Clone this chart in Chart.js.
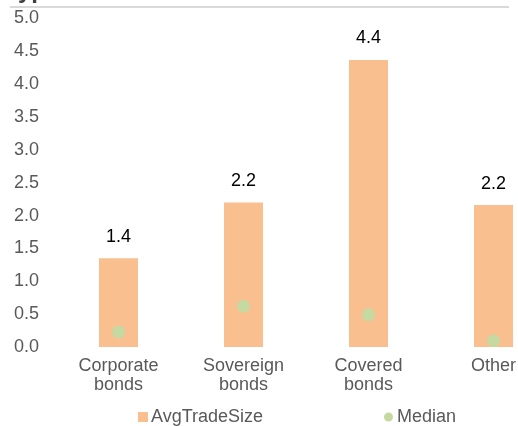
<!DOCTYPE html>
<html>
<head>
<meta charset="utf-8">
<script src="https://cdn.jsdelivr.net/npm/chart.js@4"></script>
<style>
  body { margin: 0; overflow: hidden; background: #fff; }
  #wrap { position: relative; width: 600px; height: 426px; }
  #title { position: absolute; left: 10px; top: -22px; font: bold 24px "Liberation Sans", Arial, sans-serif; line-height: 24px; color: #404040; }
  #rule { position: absolute; left: 10px; top: 6px; width: 499px; height: 2px; background: #d9d9d9; }
  canvas { position: absolute; left: 0; top: 0; }
</style>
</head>
<body>
<div id="wrap">
  <canvas id="myChart" width="600" height="426"></canvas>
  <div id="title">type</div>
  <div id="rule"></div>
</div>
<script>
const categories = [['Corporate', 'bonds'], ['Sovereign', 'bonds'], ['Covered', 'bonds'], ['Other']];
const avgTradeSize = [1.35, 2.2, 4.37, 2.16];
const median = [0.23, 0.62, 0.49, 0.095];
const yTicks = [0, 0.5, 1, 1.5, 2, 2.5, 3, 3.5, 4, 4.5, 5];

const barColor = '#f9bf8f';
const dotColor = '#c5d9a0';
const font = '"Liberation Sans", Arial, sans-serif';

// value labels above the bars
const barLabels = {
  id: 'barLabels',
  afterDatasetsDraw(chart) {
    const ctx = chart.ctx;
    const meta = chart.getDatasetMeta(1);
    ctx.save();
    ctx.font = '18px ' + font;
    ctx.fillStyle = '#000';
    ctx.textAlign = 'center';
    ctx.textBaseline = 'middle';
    meta.data.forEach((bar, i) => {
      ctx.fillText(avgTradeSize[i].toFixed(1), bar.x, bar.y - 21.5);
    });
    ctx.restore();
  }
};

// legend row, spaced like the original
const legendRow = {
  id: 'legendRow',
  afterDraw(chart) {
    const ctx = chart.ctx;
    const y = 417;
    const ds = chart.data.datasets;
    ctx.save();
    ctx.font = '18px ' + font;
    ctx.textBaseline = 'middle';

    ctx.fillStyle = ds[1].backgroundColor;
    ctx.fillRect(138, y - 5, 10, 10);
    ctx.fillStyle = '#595959';
    ctx.fillText(ds[1].label, 151, y);

    ctx.fillStyle = ds[0].pointBackgroundColor;
    ctx.beginPath();
    ctx.arc(388.5, y, 4.5, 0, Math.PI * 2);
    ctx.fill();
    ctx.fillStyle = '#595959';
    ctx.fillText(ds[0].label, 397, y);
    ctx.restore();
  }
};

const ctx = document.getElementById('myChart').getContext('2d');

const chart = new Chart(ctx, {
  data: {
    labels: categories,
    datasets: [{
      type: 'line',
      label: 'Median',
      data: median,
      showLine: false,
      pointRadius: 6.5,
      pointHoverRadius: 6.5,
      pointBackgroundColor: dotColor,
      pointBorderWidth: 0,
      order: 0
    }, {
      type: 'bar',
      label: 'AvgTradeSize',
      data: avgTradeSize,
      backgroundColor: barColor,
      barPercentage: 0.312,
      categoryPercentage: 1,
      order: 1
    }]
  },
  options: {
    responsive: false,
    devicePixelRatio: 1,
    animation: false,
    layout: {
      padding: { left: 0, right: 44, top: 18.5, bottom: 29 }
    },
    plugins: {
      legend: { display: false },
      tooltip: { enabled: false }
    },
    scales: {
      x: {
        grid: { display: false, drawTicks: false },
        border: { display: false },
        ticks: {
          color: '#595959',
          font: { family: font, size: 18, lineHeight: 1.05 },
          padding: 10,
          maxRotation: 0,
          autoSkip: false
        },
        afterFit(scale) { scale.height = 50; }
      },
      y: {
        min: 0,
        max: 5,
        grid: { display: false, drawTicks: false },
        border: { display: false },
        afterBuildTicks(scale) { scale.ticks = yTicks.map(v => ({ value: v })); },
        ticks: {
          color: '#595959',
          font: { family: font, size: 18 },
          padding: 17,
          callback: v => v.toFixed(1)
        },
        afterFit(scale) {
          scale.width = 56;
          scale.paddingTop = 0;
          scale.paddingBottom = 0;
        }
      }
    }
  },
  plugins: [barLabels, legendRow]
});
</script>
</body>
</html>
